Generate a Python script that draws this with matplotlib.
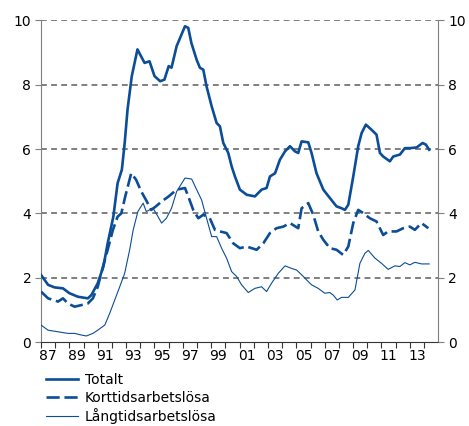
import matplotlib
matplotlib.use("Agg")
import matplotlib.pyplot as plt
import numpy as np

plt.rcParams['font.family'] = ['DejaVu Sans']

# Arbetslöshet, procent av arbetskraften
totalt_x = [1987.0, 1987.5, 1987.96, 1988.55, 1989.0, 1989.6, 1990.3, 1990.55, 1991.0, 1991.4,
            1991.7, 1992.1, 1992.4, 1992.7, 1992.9, 1993.1, 1993.4, 1993.8, 1994.3, 1994.65,
            1995.0, 1995.4, 1995.7, 1996.0, 1996.2, 1996.56, 1997.15, 1997.38, 1997.6, 1997.97,
            1998.2, 1998.44, 1998.67, 1999.03, 1999.38, 1999.61, 1999.85, 2000.2, 2000.44, 2000.67,
            2001.02, 2001.5, 2002.08, 2002.55, 2002.9, 2003.14, 2003.5, 2003.84, 2004.2, 2004.55,
            2004.9, 2005.13, 2005.37, 2005.84, 2006.07, 2006.42, 2006.9, 2007.36, 2007.83, 2008.19,
            2008.42, 2008.66, 2009.01, 2009.36, 2009.6, 2009.9, 2010.3, 2010.65, 2010.89, 2011.12,
            2011.59, 2011.83, 2012.3, 2012.65, 2013.0, 2013.47, 2013.9, 2014.13, 2014.36]
totalt = [2.09, 1.78, 1.70, 1.67, 1.52, 1.41, 1.36, 1.46, 1.83, 2.35,
          3.07, 3.90, 4.94, 5.36, 6.19, 7.23, 8.27, 9.10, 8.68, 8.73,
          8.27, 8.11, 8.16, 8.58, 8.53, 9.20, 9.82, 9.77, 9.30, 8.78,
          8.53, 8.47, 7.95, 7.33, 6.81, 6.71, 6.19, 5.88, 5.46, 5.15,
          4.74, 4.58, 4.53, 4.74, 4.79, 5.15, 5.25, 5.67, 5.93, 6.09,
          5.93, 5.88, 6.24, 6.21, 5.88, 5.25, 4.74, 4.48, 4.22, 4.16,
          4.11, 4.27, 5.15, 6.09, 6.50, 6.76, 6.60, 6.45, 5.88, 5.77,
          5.62, 5.77, 5.83, 6.03, 6.03, 6.05, 6.19, 6.14, 5.98]

kort_x = [1987.0, 1987.5, 1988.2, 1988.55, 1988.9, 1989.37, 1989.84, 1990.3, 1990.66, 1991.0,
          1991.37, 1991.7, 1992.07, 1992.4, 1992.66, 1992.94, 1993.36, 1993.7, 1994.07, 1994.4,
          1994.77, 1995.1, 1995.5, 1996.0, 1996.56, 1997.15, 1997.38, 1997.73, 1998.09, 1998.44,
          1998.9, 1999.26, 1999.61, 2000.08, 2000.55, 2001.02, 2001.5, 2002.2, 2002.67, 2003.14,
          2003.6, 2004.08, 2004.55, 2005.13, 2005.37, 2005.84, 2006.19, 2006.54, 2006.9, 2007.36,
          2007.83, 2008.3, 2008.66, 2009.01, 2009.36, 2009.71, 2010.18, 2010.65, 2011.12, 2011.47,
          2012.06, 2012.53, 2013.0, 2013.35, 2013.82, 2014.3]
kort = [1.57, 1.36, 1.26, 1.36, 1.20, 1.10, 1.15, 1.20, 1.36, 1.72,
        2.35, 2.87, 3.49, 3.90, 4.00, 4.53, 5.25, 5.05, 4.68, 4.42,
        4.11, 4.22, 4.37, 4.53, 4.74, 4.79, 4.53, 4.11, 3.85, 3.96,
        3.85, 3.49, 3.44, 3.39, 3.07, 2.92, 2.97, 2.87, 3.07, 3.39,
        3.54, 3.59, 3.70, 3.54, 4.16, 4.32, 3.96, 3.44, 3.18, 2.92,
        2.87, 2.71, 2.97, 3.70, 4.11, 4.01, 3.85, 3.75, 3.33, 3.44,
        3.44, 3.54, 3.59, 3.49, 3.70, 3.54]

lang_x = [1987.0, 1987.5, 1988.2, 1988.9, 1989.37, 1989.84, 1990.2, 1990.66, 1991.0, 1991.5,
          1991.84, 1992.2, 1992.55, 1992.9, 1993.25, 1993.5, 1993.83, 1994.2, 1994.42, 1994.9,
          1995.25, 1995.5, 1995.84, 1996.2, 1996.56, 1997.15, 1997.62, 1997.97, 1998.32, 1998.67,
          1999.03, 1999.38, 1999.73, 2000.08, 2000.44, 2000.79, 2001.14, 2001.61, 2002.08, 2002.55,
          2002.9, 2003.25, 2003.73, 2004.2, 2004.67, 2005.02, 2005.49, 2005.84, 2006.07, 2006.54,
          2007.0, 2007.36, 2007.6, 2007.88, 2008.19, 2008.66, 2009.13, 2009.48, 2009.83, 2010.07,
          2010.54, 2011.0, 2011.47, 2011.94, 2012.3, 2012.65, 2013.0, 2013.35, 2013.82, 2014.36]
lang = [0.53, 0.37, 0.32, 0.27, 0.27, 0.22, 0.19, 0.27, 0.37, 0.53,
        0.89, 1.31, 1.72, 2.14, 2.87, 3.49, 4.06, 4.32, 4.06, 4.16,
        3.90, 3.70, 3.85, 4.16, 4.68, 5.10, 5.07, 4.74, 4.42, 3.85,
        3.28, 3.28, 2.92, 2.61, 2.19, 2.04, 1.78, 1.54, 1.67, 1.72,
        1.57, 1.83, 2.14, 2.37, 2.29, 2.24, 2.04, 1.88, 1.78, 1.67,
        1.52, 1.54, 1.46, 1.31, 1.39, 1.39, 1.62, 2.45, 2.76, 2.85,
        2.61, 2.45, 2.26, 2.37, 2.35, 2.47, 2.40, 2.48, 2.43, 2.43]

year_labels = ["87", "89", "91", "93", "95", "97", "99", "01", "03", "05", "07", "09", "11", "13"]

BLUE = "#0b4d97"
GREY = "#7f7f7f"

fig = plt.figure(figsize=(4.69, 4.26), dpi=100)
ax = fig.add_axes([0.0874, 0.197, 0.847, 0.755])

# rutnät
for yv in [2, 4, 6, 8, 10]:
    ax.axhline(yv, color=GREY, lw=1.4, ls=(0, (3, 2.2)), zorder=1)

ax.plot(totalt_x, totalt, color=BLUE, lw=1.9, label="Totalt", zorder=3)
ax.plot(kort_x, kort, color=BLUE, lw=1.9, dashes=(5, 1.8), label="Korttidsarbetslösa", zorder=3)
ax.plot(lang_x, lang, color=BLUE, lw=0.8, label="Långtidsarbetslösa", zorder=3)

ax.set_xlim(1987, 2015)
ax.set_ylim(0, 10)
ax.set_yticks([0, 2, 4, 6, 8, 10])
ax.tick_params(axis="y", labelsize=10, length=4, color=GREY, pad=3)

# årsstreck vid årsskiften, etiketter mitt i året
ax.set_xticks(np.arange(1987, 2015))
ax.set_xticklabels([])
ax.set_xticks(np.arange(1987.5, 2014, 2), minor=True)
ax.set_xticklabels(year_labels, minor=True)
ax.tick_params(axis="x", which="major", length=4, color="#333333")
ax.tick_params(axis="x", which="minor", length=0, labelsize=10, pad=5)

ax.spines["top"].set_visible(False)
ax.spines["left"].set_color(GREY)
ax.spines["right"].set_color(GREY)
ax.spines["bottom"].set_color("#333333")

ax2 = ax.twinx()
ax2.set_ylim(0, 10)
ax2.set_yticks([0, 2, 4, 6, 8, 10])
ax2.tick_params(axis="y", labelsize=10, length=4, color=GREY, pad=3)
for s in ax2.spines.values():
    s.set_visible(False)

handles, labels = ax.get_legend_handles_labels()
fig.legend(handles, labels, loc="upper left", bbox_to_anchor=(0.098, 0.124),
           frameon=False, fontsize=10, handlelength=2.3, handletextpad=0.5,
           labelspacing=0.26, borderaxespad=0, borderpad=0)

fig.savefig("out.png", dpi=100)
